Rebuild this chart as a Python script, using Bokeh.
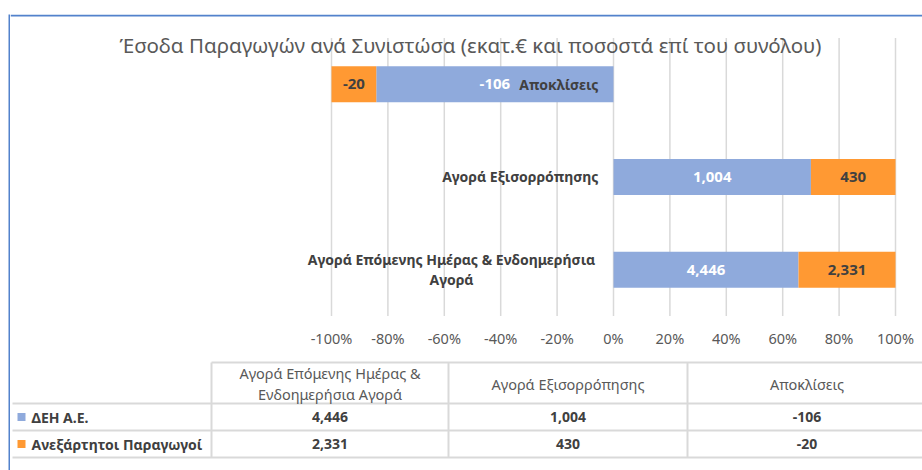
from bokeh.plotting import figure
from bokeh.models import Range1d, Label, FixedTicker, Spacer, BoxAnnotation
from bokeh.layouts import row, column
from bokeh.core.properties import value
from bokeh.embed import file_html
from bokeh.resources import INLINE

# ---------------- data ----------------
categories = ["Αγορά Επόμενης Ημέρας & Ενδοημερήσια Αγορά", "Αγορά Εξισορρόπησης", "Αποκλίσεις"]
series_names = ["ΔΕΗ Α.Ε.", "Ανεξάρτητοι Παραγωγοί"]
deh_values = [4446, 1004, -106]
indep_values = [2331, 430, -20]
tick_values = [-1.0, -0.8, -0.6, -0.4, -0.2, 0.0, 0.2, 0.4, 0.6, 0.8, 1.0]
tick_labels = ["-100%", "-80%", "-60%", "-40%", "-20%", "0%", "20%", "40%", "60%", "80%", "100%"]
title_text = "Έσοδα Παραγωγών ανά Συνιστώσα (εκατ.€ και ποσοστά επί του συνόλου)"

# ---------------- styles ----------------
BLUE = "#8FAADC"
ORANGE = "#FF9933"
DARK = "#404040"
GRAY = "#595959"
GRID = "#D9D9D9"
BORDER = "#5282CC"
FONT = "Noto Sans"

# ---------------- chart figure ----------------
WA, HA = 912, 336
FRAME_H = 310
PX0 = 603.0      # x pixel of 0% inside the chart figure
PXU = 282.0      # pixels per 100%

p = figure(width=WA, height=HA, output_backend="svg", toolbar_location=None,
           x_range=Range1d(-PX0 / PXU, (WA - PX0) / PXU),
           y_range=Range1d(-0.5906, 2.7523),
           y_axis_location=None, min_border_left=0, min_border_right=0,
           min_border_top=0, min_border_bottom=HA - FRAME_H)
p.outline_line_color = None
p.xgrid.visible = False
p.ygrid.visible = False

ax = p.xaxis[0]
ax.ticker = FixedTicker(ticks=tick_values)
ax.major_label_overrides = {t: l for t, l in zip(tick_values, tick_labels)}
ax.axis_line_color = None
ax.major_tick_line_color = None
ax.minor_tick_line_color = None
ax.major_tick_out = 0
ax.major_tick_in = 0
ax.major_label_standoff = 3
ax.major_label_text_font = FONT
ax.major_label_text_font_size = "14.5px"
ax.major_label_text_color = GRAY

ypos = list(range(len(categories)))

# top border of the chart area
p.add_layout(BoxAnnotation(top=FRAME_H, bottom=FRAME_H - 2, top_units="screen", bottom_units="screen",
                           fill_color=BORDER, fill_alpha=1.0, line_color=None))

# gridlines, bounded to the plot area
p.segment(x0=tick_values, x1=tick_values, y0=[-0.5] * len(tick_values), y1=[2.5] * len(tick_values),
          line_color=GRID, line_width=1.5)

# 100% stacked shares
totals = [abs(a) + abs(b) for a, b in zip(deh_values, indep_values)]
s_deh = [a / t for a, t in zip(deh_values, totals)]
s_ind = [b / t for b, t in zip(indep_values, totals)]
left_ind = s_deh
right_ind = [a + b for a, b in zip(s_deh, s_ind)]

p.hbar(y=ypos, left=[0] * len(ypos), right=s_deh, height=0.39, fill_color=BLUE, line_color=None)
p.hbar(y=ypos, left=left_ind, right=right_ind, height=0.39, fill_color=ORANGE, line_color=None)

# data labels
p.text(x=[a / 2 for a in s_deh], y=ypos, text=[f"{v:,}" for v in deh_values],
       text_align="center", text_baseline="middle", text_color="white",
       text_font=value(FONT), text_font_style="bold", text_font_size="15px")
p.text(x=[(l + r) / 2 for l, r in zip(left_ind, right_ind)], y=ypos, text=[f"{v:,}" for v in indep_values],
       text_align="center", text_baseline="middle", text_color=DARK,
       text_font=value(FONT), text_font_style="bold", text_font_size="15px")

# category labels at the zero line
for i, c in enumerate(categories):
    if len(c) > 30:
        first, last = c.rsplit(" ", 1)
        p.text(x=[0], y=[ypos[i]], text=[first + "\n" + last], x_offset=-162,
               text_align="center", text_baseline="middle", text_line_height=1.05,
               text_color=DARK, text_font=value(FONT), text_font_style="bold", text_font_size="14px")
    else:
        p.text(x=[0], y=[ypos[i]], text=[c], x_offset=-15,
               text_align="right", text_baseline="middle",
               text_color=DARK, text_font=value(FONT), text_font_style="bold", text_font_size="14px")

# title
p.add_layout(Label(x=460, y=FRAME_H - 30, x_units="screen", y_units="screen", text=title_text,
                   text_font=FONT, text_font_size="20.5px", text_color=GRAY,
                   text_align="center", text_baseline="middle"))

# ---------------- data table figure ----------------
WC, HC = 912, 120
X0, Y0 = 10, 350   # page position of the table figure
t = figure(width=WC, height=HC, output_backend="svg", toolbar_location=None,
           x_range=Range1d(X0, X0 + WC), y_range=Range1d(Y0 + HC, Y0),
           x_axis_location=None, y_axis_location=None, min_border=0)
t.outline_line_color = None
t.xgrid.visible = False
t.ygrid.visible = False

col_edges = [211, 448, 687, 926]
row_edges = [362, 403, 430, 457]
RIGHT = X0 + WC
hx0 = [col_edges[0]] + [12] * 3
hx1 = [RIGHT] * 4
t.segment(x0=hx0, x1=hx1, y0=row_edges, y1=row_edges, line_color=GRID, line_width=2)
t.segment(x0=col_edges[:3], x1=col_edges[:3], y0=[row_edges[0]] * 3, y1=[row_edges[-1]] * 3,
          line_color=GRID, line_width=2)

col_centers = [(a + b) / 2 for a, b in zip(col_edges[:-1], col_edges[1:])]
head_text = []
for c in categories:
    if len(c) > 30:
        w = c.split(" ")
        c = " ".join(w[:4]) + "\n" + " ".join(w[4:])
    head_text.append(c)
t.text(x=col_centers, y=[(row_edges[0] + row_edges[1]) / 2 + 0.5] * 3, text=head_text,
       text_align="center", text_baseline="middle", text_line_height=1.05,
       text_color=GRAY, text_font=value(FONT), text_font_size="14.5px")

series_values = [deh_values, indep_values]
series_colors = [BLUE, ORANGE]
row_centers = [(row_edges[r + 1] + row_edges[r + 2]) / 2 for r in range(2)]
t.rect(x=[21] * 2, y=row_centers, width=8, height=8, fill_color=series_colors, line_color=None)
t.text(x=[31] * 2, y=row_centers, text=series_names, text_align="left", text_baseline="middle",
       text_color=DARK, text_font=value(FONT), text_font_style="bold", text_font_size="14px")
for r, vals in enumerate(series_values):
    t.text(x=col_centers, y=[row_centers[r]] * 3, text=[f"{v:,}" for v in vals],
           text_align="center", text_baseline="middle",
           text_color=DARK, text_font=value(FONT), text_font_style="bold", text_font_size="14px")

# ---------------- left border and layout ----------------
left_bar = figure(width=2, height=HA + HC, output_backend="svg", toolbar_location=None,
                  x_axis_location=None, y_axis_location=None, min_border=0)
left_bar.background_fill_color = BORDER
left_bar.border_fill_color = BORDER
left_bar.outline_line_color = None
left_bar.xgrid.visible = False
left_bar.ygrid.visible = False

layout = column(
    Spacer(width=922, height=14),
    row(Spacer(width=8, height=HA + HC), left_bar, column(p, t)),
)

open("out.html", "w").write(file_html(layout, INLINE))
